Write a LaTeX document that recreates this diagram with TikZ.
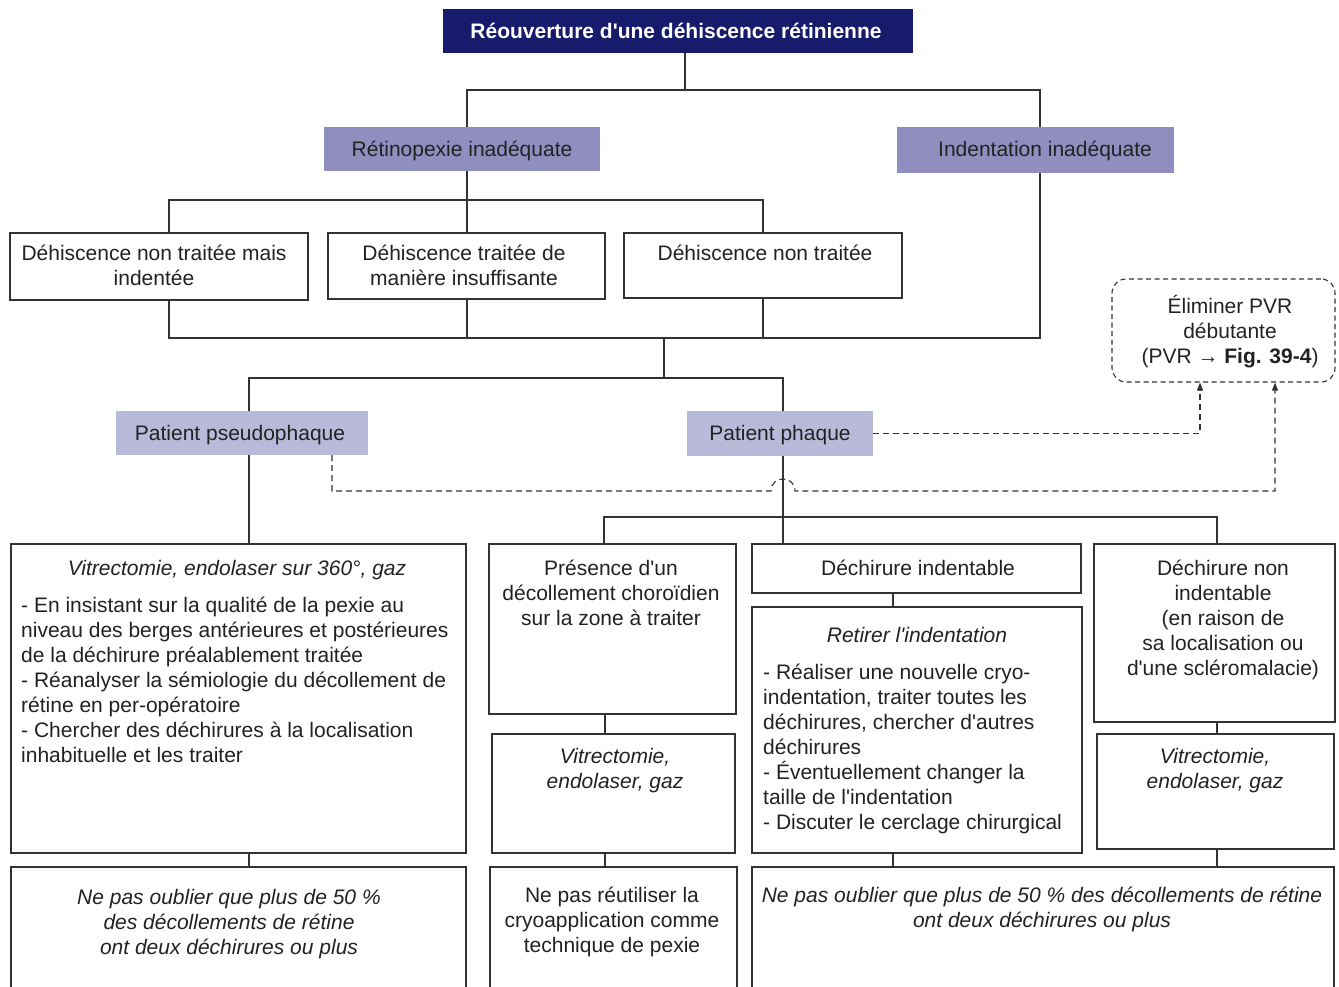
\documentclass[tikz,border=0pt]{standalone}
\usepackage{fontspec}
\setmainfont{Liberation Sans}[Ligatures=TeXOff]
\usetikzlibrary{arrows.meta,calc}
\definecolor{navy}{HTML}{171B6B}
\definecolor{lavdark}{HTML}{8F8EBF}
\definecolor{lavlight}{HTML}{B9B9D9}
\definecolor{linecol}{HTML}{333333}
\definecolor{inkcol}{HTML}{222222}
% invisible rule fixing the height of a first text line
\newcommand\lnstrut{\rule{0pt}{20pt}}
% box given by its corners: style, x1, y1, x2, y2, name
\newcommand\boxnode[6]{\node[#1, minimum width={(#4)-(#2)}, minimum height={(#5)-(#3)}] (#6) at ({((#2)+(#4))/2},{((#3)+(#5))/2}) {};}
\begin{document}
\begin{tikzpicture}[x=1pt,y=-1pt,
  frame/.style={draw=linecol,line width=1.2pt,fill=white,inner sep=0pt},
  headbox/.style={fill=navy,inner sep=0pt},
  lvl1/.style={fill=lavdark,inner sep=0pt},
  lvl2/.style={fill=lavlight,inner sep=0pt},
  dashbox/.style={draw=linecol,line width=1.1pt,dash pattern=on 5pt off 3.5pt,rounded corners=14pt,inner sep=0pt},
  txt/.style={inner sep=0pt,align=center,text=inkcol,font=\fontsize{21}{25}\selectfont},
  listtxt/.style={txt,align=left},
  link/.style={draw=linecol,line width=1.2pt},
  dashlink/.style={draw=linecol,line width=1.1pt,dash pattern=on 6pt off 4pt,-{Triangle[length=8pt,width=6pt]}}
]
\useasboundingbox (0,0) rectangle (1339,987);
\clip (0,0) rectangle (1339,987);

% ---- boxes ----
\boxnode{headbox}{443}{9}{913}{53}{title}
\boxnode{lvl1}{324}{127}{600}{171}{retino}
\boxnode{lvl1}{897}{127}{1174}{173}{indent}
\boxnode{frame}{10}{233}{308}{300}{d1}
\boxnode{frame}{328}{233}{605}{299}{d2}
\boxnode{frame}{624}{233}{902}{298}{d3}
\boxnode{dashbox}{1112}{279}{1335}{382}{elim}
\boxnode{lvl2}{116}{411}{368}{455}{pseudo}
\boxnode{lvl2}{687}{411}{873}{456}{phaque}
\boxnode{frame}{11}{544}{466}{853}{big}
\boxnode{frame}{489}{544}{736}{714}{pres}
\boxnode{frame}{752}{544}{1081}{593}{indt}
\boxnode{frame}{1094}{544}{1335}{722}{nonind}
\boxnode{frame}{492}{734}{735}{853}{vit2}
\boxnode{frame}{752}{607}{1082}{853}{retire}
\boxnode{frame}{1097}{734}{1334}{849}{vit3}
\boxnode{frame}{11}{867}{466}{1010}{low1}
\boxnode{frame}{490}{867}{737}{1010}{low2}
\boxnode{frame}{752}{867}{1334}{1010}{low3}

% ---- texts ----
\node[txt,anchor=north,text=white,font=\fontsize{21}{25}\selectfont\bfseries] (tTitle) at (676,18) {\lnstrut Réouverture d'une déhiscence rétinienne};
\node[txt,anchor=north] (tRetino) at (462,136) {\lnstrut Rétinopexie inadéquate};
\node[txt,anchor=north] (tIndent) at (1045,136) {\lnstrut Indentation inadéquate};
\node[txt,anchor=north] (tD1) at (154,240) {\lnstrut Déhiscence non traitée mais\\indentée};
\node[txt,anchor=north] (tD2) at (464,240) {\lnstrut Déhiscence traitée de\\manière insuffisante};
\node[txt,anchor=north] (tD3) at (765,240) {\lnstrut Déhiscence non traitée};
\node[txt,anchor=north] (tElim) at (1230,293) {\lnstrut Éliminer PVR\\débutante\\(PVR → \textbf{Fig. 39-4})};
\node[txt,anchor=north] (tPseudo) at (240,420) {\lnstrut Patient pseudophaque};
\node[txt,anchor=north] (tPhaque) at (780,420) {\lnstrut Patient phaque};
\node[txt,anchor=north,font=\fontsize{21}{25}\selectfont\itshape] (tBigHead) at (237,555) {\lnstrut Vitrectomie, endolaser sur 360°, gaz};
\node[listtxt,anchor=north west] (tBigList) at (21,592) {\lnstrut - En insistant sur la qualité de la pexie au\\
niveau des berges antérieures et postérieures\\
de la déchirure préalablement traitée\\
- Réanalyser la sémiologie du décollement de\\
rétine en per-opératoire\\
- Chercher des déchirures à la localisation\\
inhabituelle et les traiter};
\node[txt,anchor=north] (tPres) at (611,555) {\lnstrut Présence d'un\\décollement choroïdien\\sur la zone à traiter};
\node[txt,anchor=north] (tIndt) at (918,555) {\lnstrut Déchirure indentable};
\node[txt,anchor=north] (tNonind) at (1223,555) {\lnstrut Déchirure non\\indentable\\(en raison de\\sa localisation ou\\d'une scléromalacie)};
\node[txt,anchor=north,font=\fontsize{21}{25}\selectfont\itshape] (tRetHead) at (917,622) {\lnstrut Retirer l'indentation};
\node[listtxt,anchor=north west] (tRetList) at (763,659) {\lnstrut - Réaliser une nouvelle cryo-\\
indentation, traiter toutes les\\
déchirures, chercher d'autres\\
déchirures\\
- Éventuellement changer la\\
taille de l'indentation\\
- Discuter le cerclage chirurgical};
\node[txt,anchor=north,font=\fontsize{21}{25}\selectfont\itshape] (tVit2) at (615,743) {\lnstrut Vitrectomie,\\endolaser, gaz};
\node[txt,anchor=north,font=\fontsize{21}{25}\selectfont\itshape] (tVit3) at (1215,743) {\lnstrut Vitrectomie,\\endolaser, gaz};
\node[txt,anchor=north,font=\fontsize{21}{25}\selectfont\itshape] (tLow1) at (229,884) {\lnstrut Ne pas oublier que plus de 50~\%\\des décollements de rétine\\ont deux déchirures ou plus};
\node[txt,anchor=north] (tLow2) at (612,882) {\lnstrut Ne pas réutiliser la\\cryoapplication comme\\technique de pexie};
\node[txt,anchor=north,font=\fontsize{21}{25}\selectfont\itshape] (tLow3) at (1042,882) {\lnstrut Ne pas oublier que plus de 50~\% des décollements de rétine\\ont deux déchirures ou plus};

% ---- tree connectors ----
\coordinate (j1) at (685,90);
\coordinate (j2) at (467,200);
\coordinate (j3) at (664,338);
\coordinate (j4) at (664,378);
\coordinate (j5) at (783,517);

\draw[link] (j1 |- title.south) -- (j1);
\draw[link] (j2 |- retino.north) |- (j1) -| (1040,0 |- indent.north);
\draw[link] (j2 |- retino.south) -- (j2);
\draw[link] (169,0 |- d1.north) |- (j2) -| (763,0 |- d3.north);
\draw[link] (j2) -- (j2 |- d2.north);
\draw[link] (169,0 |- d1.south) |- (j3) -| (1040,0 |- indent.south);
\draw[link] (j2 |- d2.south) -- (j2 |- j3);
\draw[link] (763,0 |- d3.south) -- (763,0 |- j3);
\draw[link] (j3) -- (j4);
\draw[link] (249,0 |- pseudo.north) |- (j4) -| (783,0 |- phaque.north);
\draw[link] (249,0 |- pseudo.south) -- (249,0 |- big.north);
\draw[link] (783,0 |- phaque.south) -- (j5);
\draw[link] (604,0 |- pres.north) |- (j5) -| (1217,0 |- nonind.north);
\draw[link] (j5) -- (j5 |- indt.north);
\draw[link] (605,0 |- pres.south) -- (605,0 |- vit2.north);
\draw[link] (893,0 |- indt.south) -- (893,0 |- retire.north);
\draw[link] (1217,0 |- nonind.south) -- (1217,0 |- vit3.north);
\draw[link] (249,0 |- big.south) -- (249,0 |- low1.north);
\draw[link] (605,0 |- vit2.south) -- (605,0 |- low2.north);
\draw[link] (893,0 |- retire.south) -- (893,0 |- low3.north);
\draw[link] (1217,0 |- vit3.south) -- (1217,0 |- low3.north);

% ---- dashed links to the PVR box ----
\draw[dashlink] (phaque.east) -| (1200,0 |- elim.south);
\draw[dashlink] (332,0 |- pseudo.south) |- (771,491) .. controls (771,475) and (795,475) .. (795,491) -| (1275,0 |- elim.south);
\end{tikzpicture}
\end{document}
